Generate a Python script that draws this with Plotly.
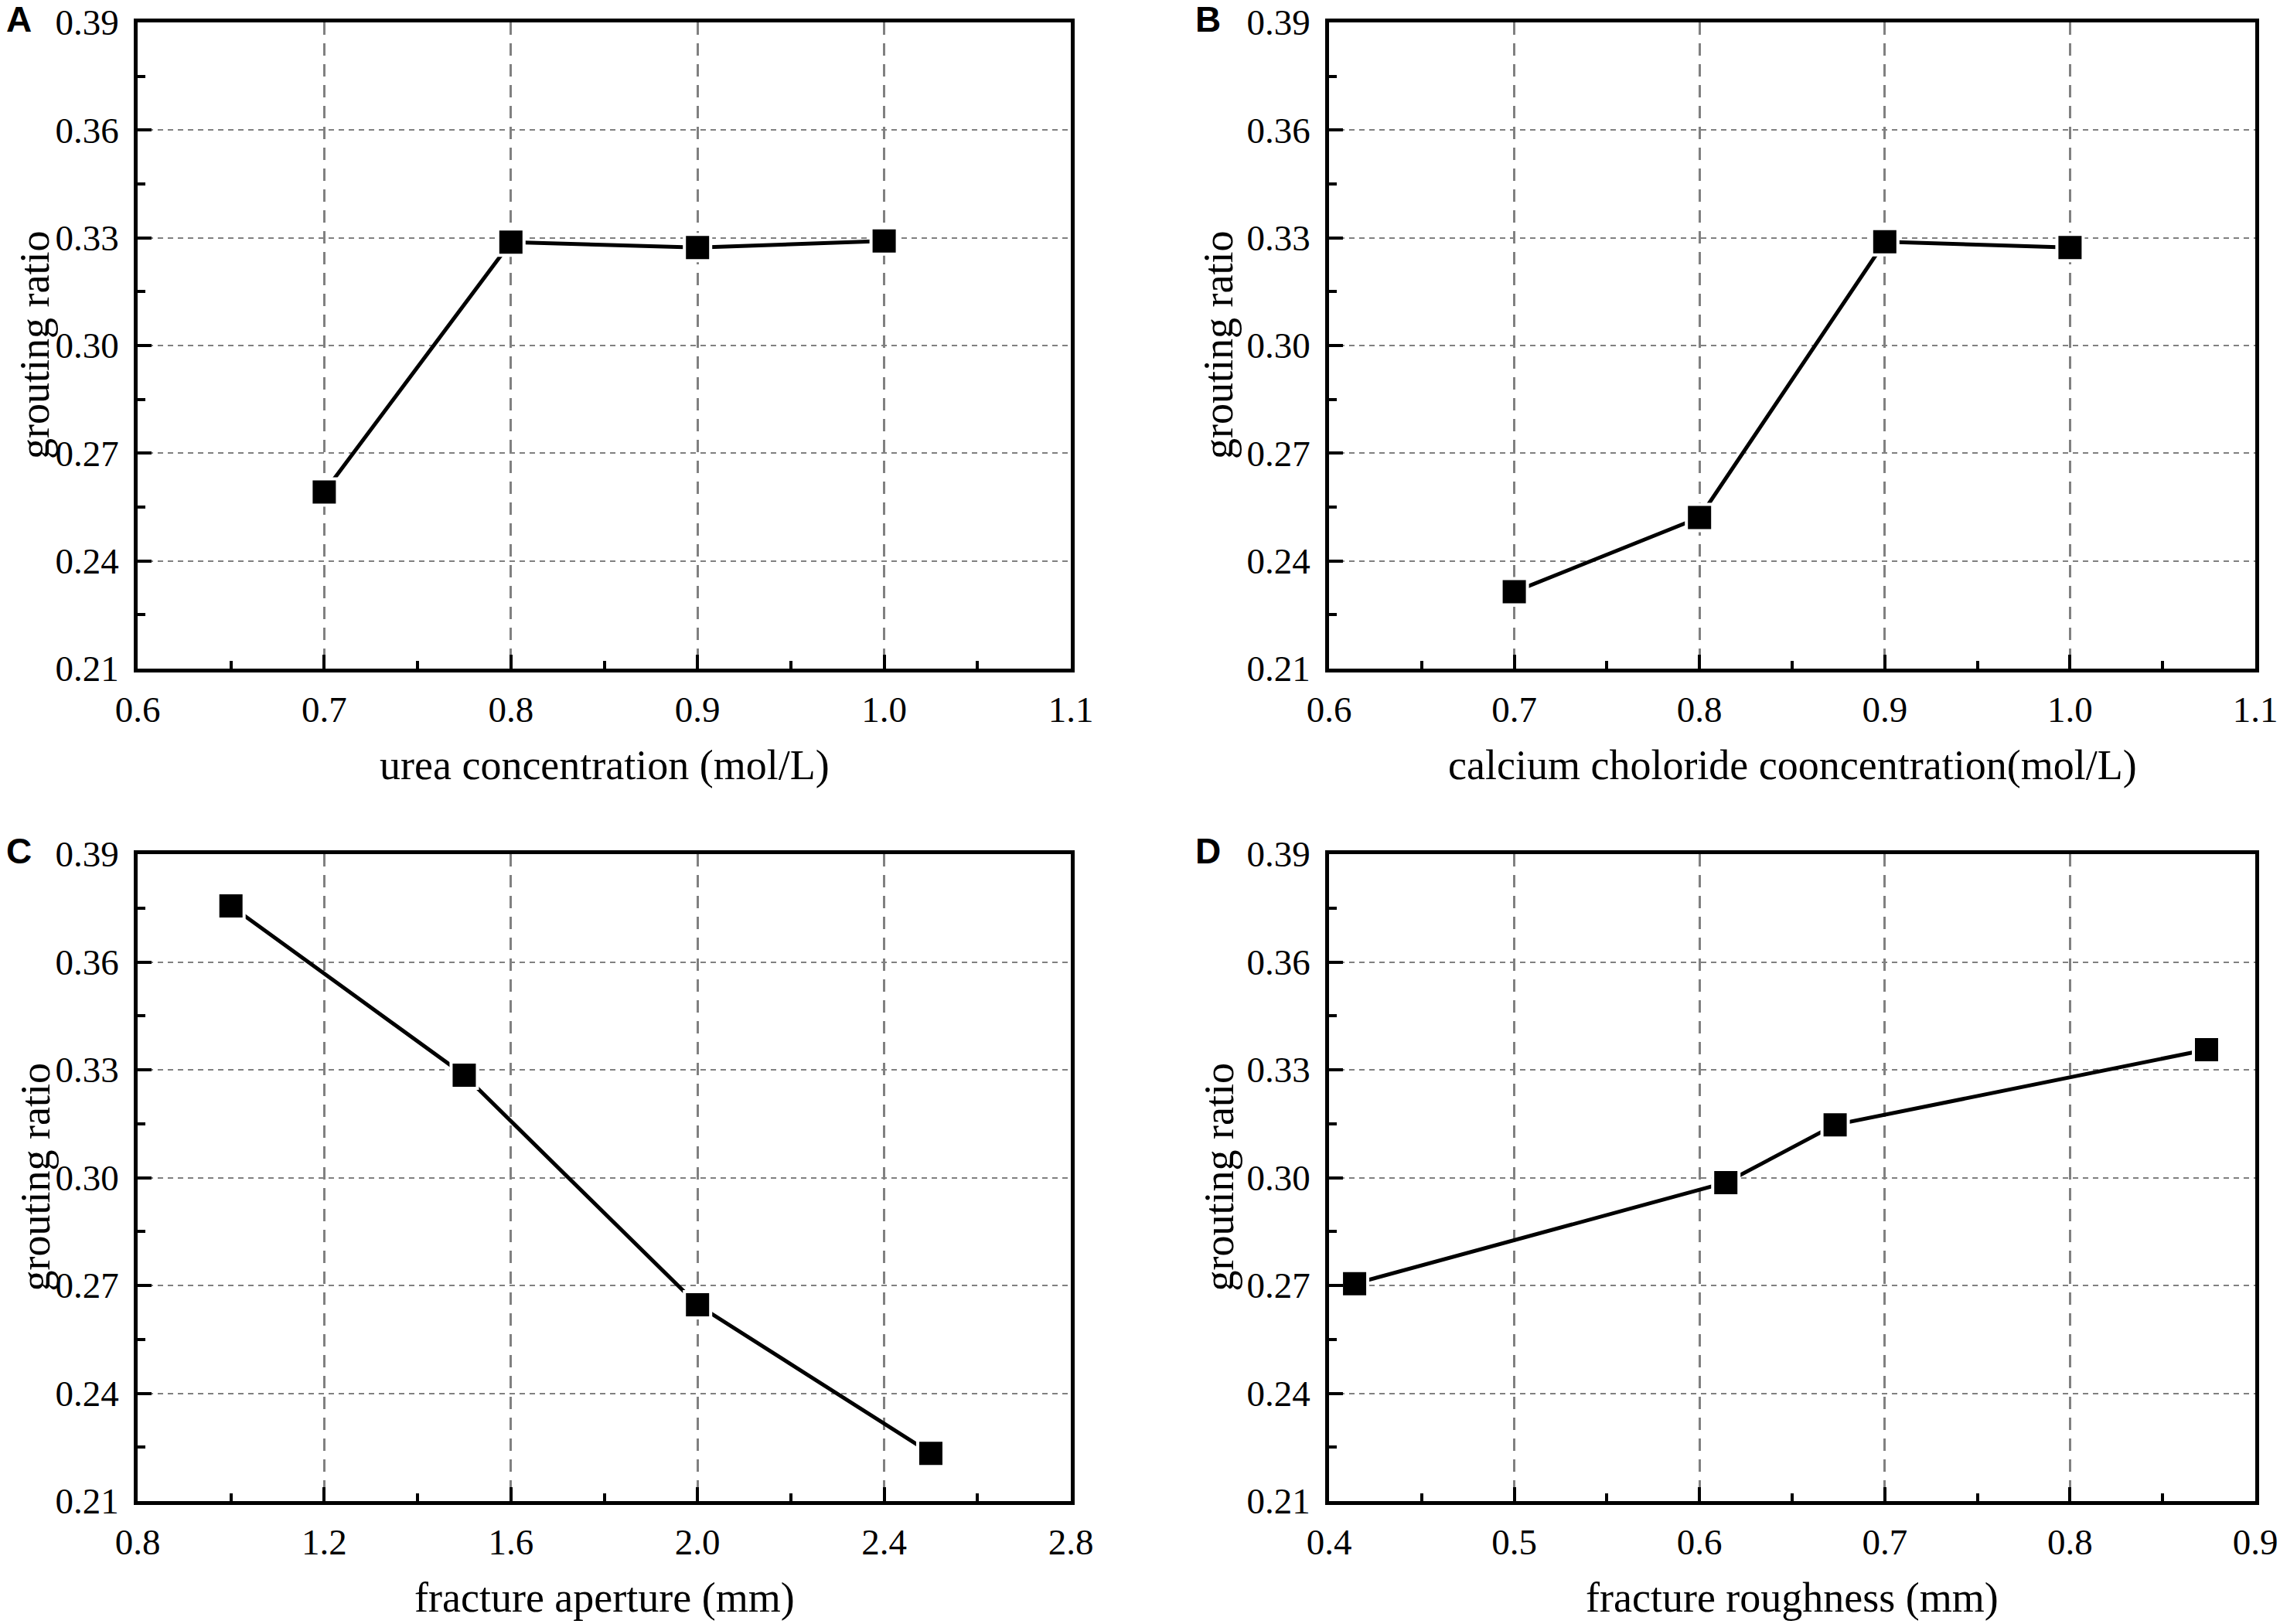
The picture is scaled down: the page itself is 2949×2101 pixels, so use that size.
import plotly.graph_objects as go

# panel A: urea concentration
urea_x = [0.7, 0.8, 0.9, 1.0]
urea_y = [0.2592, 0.3288, 0.3273, 0.3291]

# panel B: calcium chloride concentration
cacl_x = [0.7, 0.8, 0.9, 1.0]
cacl_y = [0.2314, 0.2521, 0.3289, 0.3273]

# panel C: fracture aperture
aperture_x = [1.0, 1.5, 2.0, 2.5]
aperture_y = [0.3756, 0.3285, 0.2646, 0.2233]

# panel D: fracture roughness
rough_x = [0.4138, 0.6142, 0.6732, 0.8737]
rough_y = [0.2705, 0.2986, 0.3147, 0.3356]

x_titles = ["urea concentration (mol/L)",
            "calcium choloride cooncentration(mol/L)",
            "fracture aperture (mm)",
            "fracture roughness (mm)"]
y_title = "grouting ratio"
panel_letters = ["A", "B", "C", "D"]

W, H = 2949, 2101
serif = "Liberation Serif"
sans = "Liberation Sans"
grid_color = "#808080"

# pixel boxes of the four plot areas (left, right, top, bottom)
boxes = [(178, 1385, 29, 865), (1719, 2917, 29, 865),
         (178, 1385, 1105, 1942), (1719, 2917, 1105, 1942)]

x_setup = [dict(range=[0.6, 1.1], dtick=0.1, tick0=0.6, minor=0.05),
           dict(range=[0.6, 1.1], dtick=0.1, tick0=0.6, minor=0.05),
           dict(range=[0.8, 2.8], dtick=0.4, tick0=0.8, minor=0.2),
           dict(range=[0.4, 0.9], dtick=0.1, tick0=0.4, minor=0.05)]

series = [(urea_x, urea_y), (cacl_x, cacl_y), (aperture_x, aperture_y), (rough_x, rough_y)]

fig = go.Figure()

for i, (xs, ys) in enumerate(series):
    n = "" if i == 0 else str(i + 1)
    l, r, t, b = boxes[i]
    fig.add_trace(go.Scatter(
        x=xs, y=ys, mode="lines+markers", xaxis="x" + n, yaxis="y" + n,
        line=dict(color="black", width=5),
        marker=dict(symbol="square", size=34, color="black",
                    line=dict(color="white", width=4)),
        showlegend=False, cliponaxis=False))

    xs_ = x_setup[i]
    fig.layout["xaxis" + n] = dict(
        domain=[l / W, r / W], anchor="y" + n, automargin=False,
        range=xs_["range"], tick0=xs_["tick0"], dtick=xs_["dtick"], tickformat=".1f",
        ticks="inside", ticklen=18, tickwidth=4, tickcolor="black",
        minor=dict(ticks="inside", ticklen=10, tickwidth=4, tickcolor="black",
                   dtick=xs_["minor"], showgrid=False),
        showline=True, linewidth=4.5, linecolor="black", mirror=True,
        showgrid=True, gridcolor=grid_color, gridwidth=3, griddash="16px,11px",
        zeroline=False, ticklabelstandoff=8,
        tickfont=dict(family=serif, size=47, color="black"))
    fig.layout["yaxis" + n] = dict(
        domain=[1 - b / H, 1 - t / H], anchor="x" + n, automargin=False,
        range=[0.21, 0.39], tick0=0.21, dtick=0.03, tickformat=".2f",
        ticks="inside", ticklen=18, tickwidth=4, tickcolor="black",
        minor=dict(ticks="inside", ticklen=10, tickwidth=4, tickcolor="black",
                   dtick=0.015, showgrid=False),
        showline=True, linewidth=4.5, linecolor="black", mirror=True,
        showgrid=True, gridcolor=grid_color, gridwidth=2, griddash="7px,6px",
        zeroline=False, ticklabelstandoff=10,
        tickfont=dict(family=serif, size=47, color="black"))

    # axis titles
    fig.add_annotation(text=x_titles[i], xref="paper", yref="paper",
                       x=(l + r) / 2 / W, y=1 - (b + 125) / H,
                       showarrow=False, xanchor="center", yanchor="middle",
                       font=dict(family=serif, size=54, color="black"))
    ytx = 45 if i % 2 == 0 else 1576
    fig.add_annotation(text=y_title, xref="paper", yref="paper",
                       x=ytx / W, y=1 - (t + b) / 2 / H, textangle=-90,
                       showarrow=False, xanchor="center", yanchor="middle",
                       font=dict(family=serif, size=54, color="black"))

    # panel letter
    lx = 24 if i % 2 == 0 else 1562
    fig.add_annotation(text="<b>" + panel_letters[i] + "</b>", xref="paper", yref="paper",
                       x=lx / W, y=1 - (t - 4) / H,
                       showarrow=False, xanchor="center", yanchor="middle",
                       font=dict(family=sans, size=46, color="black"))

fig.update_layout(template="none", width=W, height=H,
                  margin=dict(l=0, r=0, t=0, b=0, autoexpand=False),
                  font=dict(family=serif, color="black"),
                  plot_bgcolor="white", paper_bgcolor="white")

# drop the default page margin so the figure sits at the window corner
fig.write_html("out.html", config={"displayModeBar": False},
               post_script="document.body.style.margin='0';document.body.style.overflow='hidden';")
